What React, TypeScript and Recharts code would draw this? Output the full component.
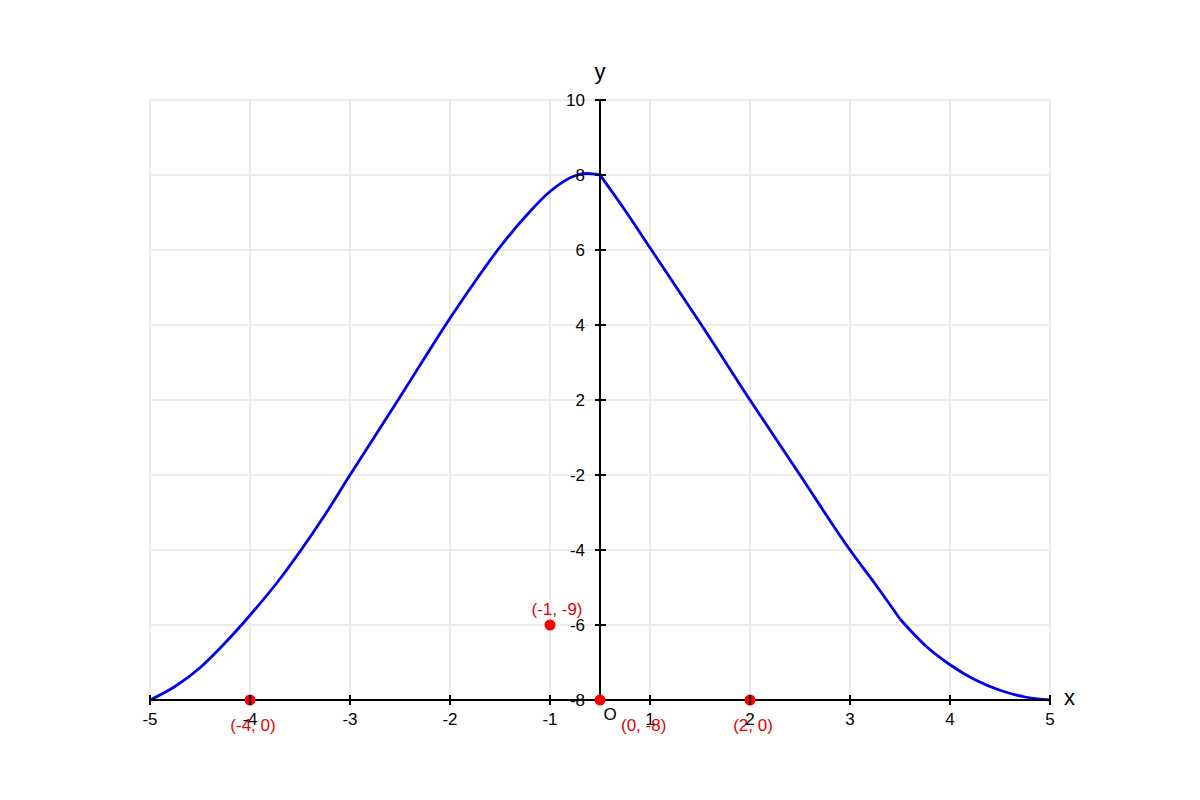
import React from "react";
import {
  CartesianGrid,
  ComposedChart,
  Line,
  ReferenceDot,
  ReferenceLine,
  Scatter,
  XAxis,
  YAxis,
} from "recharts";

// tick slots along each axis and the labels printed at them
const xTicks = [0, 1, 2, 3, 4, 5, 6, 7, 8, 9];
const xTickLabels = ["-5", "-4", "-3", "-2", "-1", "1", "2", "3", "4", "5"];
const yTicks = [0, 1, 2, 3, 4, 5, 6, 7, 8];
const yTickLabels = ["-8", "-6", "-4", "-2", "2", "4", "6", "8", "10"];

// slot where the vertical axis crosses (between "-1" and "1")
const yAxisAt = 4.5;

// blue curve (x slot, y slot)
const curveX = [
  0, 0.25, 0.5, 0.75, 1, 1.25, 1.5, 1.75, 2, 2.25, 2.5, 2.75, 3, 3.25, 3.5,
  3.75, 4, 4.25, 4.37, 4.5, 4.75, 5, 5.25, 5.5, 6, 6.5, 7, 7.25, 7.5, 7.75, 8,
  8.25, 8.5, 8.75, 9,
];
const curveY = [
  0, 0.18, 0.43, 0.76, 1.13, 1.53, 1.98, 2.47, 3.0, 3.52, 4.04, 4.57, 5.09,
  5.58, 6.04, 6.44, 6.78, 6.99, 7.02, 7.0, 6.53, 6.03, 5.53, 5.03, 4.0, 3.0,
  2.0, 1.55, 1.08, 0.73, 0.47, 0.27, 0.13, 0.04, 0,
];
// the curve has corners at these x slots
const curveBreaks = [4.5, 7.5];

// red marked points
const pointX = [1, 4, 4.5, 6];
const pointY = [0, 1, 0, 0];
const pointLabels = ["(-4, 0)", "(-1, -9)", "(0, -8)", "(2, 0)"];
const pointPlacement = ["below", "above", "belowRight", "below"];

const curve = curveX.map((x, i) => ({ x, y: curveY[i] }));
const bounds = [0, ...curveBreaks, 9];
const curvePieces = bounds
  .slice(0, -1)
  .map((lo, i) => curve.filter((p) => p.x >= lo && p.x <= bounds[i + 1]));

const points = pointX.map((x, i) => ({
  x,
  y: pointY[i],
  label: pointLabels[i],
  place: pointPlacement[i],
}));

const FONT = "'Liberation Sans', Arial, sans-serif";
const FS = 17;

function XTick(props: any) {
  const { x, y, payload } = props;
  const idx = xTicks.indexOf(payload.value);
  return (
    <g>
      <line x1={x} x2={x} y1={y - 5} y2={y + 5} stroke="#000" strokeWidth={2} />
      <text x={x} y={y + 25} textAnchor="middle" fontSize={FS} fill="#000" fontFamily={FONT}>
        {xTickLabels[idx]}
      </text>
    </g>
  );
}

function PointShape(props: any) {
  const { cx, cy, payload } = props;
  let tx = cx + 3;
  let ty = cy + 31;
  let anchor = "middle";
  if (payload.place === "above") {
    tx = cx + 7;
    ty = cy - 10;
  } else if (payload.place === "belowRight") {
    tx = cx + 21;
    anchor = "start";
  }
  return (
    <g>
      <circle cx={cx} cy={cy} r={5.5} fill="#ff0000" />
      <text x={tx} y={ty} textAnchor={anchor} fontSize={FS} fill="#e00000" fontFamily={FONT}>
        {payload.label}
      </text>
    </g>
  );
}

export default function App() {
  return (
    <div
      style={{
        position: "absolute",
        left: 0,
        top: 0,
        width: 1200,
        height: 800,
        background: "#fff",
        fontFamily: FONT,
      }}
    >
      <ComposedChart
        width={1200}
        height={800}
        margin={{ top: 100, right: 150, bottom: 70, left: 150 }}
      >
        <CartesianGrid stroke="#ebebeb" strokeWidth={2} />
        <XAxis
          type="number"
          dataKey="x"
          domain={[0, 9]}
          ticks={xTicks}
          interval={0}
          height={30}
          tickSize={0}
          tickMargin={0}
          tickLine={false}
          axisLine={{ stroke: "#000", strokeWidth: 2 }}
          tick={<XTick />}
        />
        <YAxis type="number" dataKey="y" domain={[0, 8]} ticks={yTicks} hide width={0} />

        <ReferenceLine
          x={yAxisAt}
          stroke="#000"
          strokeWidth={2}
          label={{ value: "y", position: "top", offset: 21, fontSize: 22, fill: "#000" }}
        />
        {yTicks.map((v, i) => (
          <ReferenceDot
            key={v}
            x={yAxisAt}
            y={v}
            r={1}
            shape={(p: any) => (
              <g>
                <line x1={p.cx - 5} x2={p.cx + 6} y1={p.cy} y2={p.cy} stroke="#000" strokeWidth={2} />
                <text x={p.cx - 15} y={p.cy + 6} textAnchor="end" fontSize={FS} fill="#000" fontFamily={FONT}>
                  {yTickLabels[i]}
                </text>
              </g>
            )}
          />
        ))}
        <ReferenceDot
          x={yAxisAt}
          y={0}
          r={1}
          shape={(p: any) => (
            <text x={p.cx + 10} y={p.cy + 20} textAnchor="middle" fontSize={FS} fill="#000" fontFamily={FONT}>
              O
            </text>
          )}
        />
        <ReferenceDot
          x={9}
          y={0}
          r={1}
          shape={(p: any) => (
            <text x={p.cx + 14} y={p.cy + 5} textAnchor="start" fontSize={22} fill="#000" fontFamily={FONT}>
              x
            </text>
          )}
        />

        {curvePieces.map((piece, i) => (
          <Line
            key={i}
            data={piece}
            dataKey="y"
            type="monotone"
            stroke="#0000ee"
            strokeWidth={2.8}
            dot={false}
            activeDot={false}
            isAnimationActive={false}
          />
        ))}
        <Scatter data={points} dataKey="y" shape={<PointShape />} isAnimationActive={false} />
      </ComposedChart>
    </div>
  );
}
